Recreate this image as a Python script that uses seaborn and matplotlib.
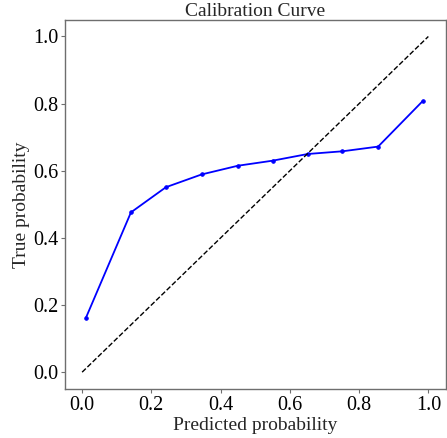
import matplotlib
matplotlib.use("Agg")
import matplotlib.pyplot as plt
import seaborn as sns
import pandas as pd

# Binned calibration results
mean_predicted = [0.011, 0.141, 0.242, 0.345, 0.450, 0.550, 0.652, 0.752, 0.855, 0.985]
fraction_positive = [0.162, 0.476, 0.551, 0.589, 0.615, 0.630, 0.650, 0.658, 0.672, 0.809]
reference_line = [0.0, 1.0]

sns.set_style("ticks", {"axes.edgecolor": "#6e6e6e", "xtick.color": "#6e6e6e",
                        "ytick.color": "#6e6e6e"})
plt.rcParams["font.family"] = ["Liberation Serif", "DejaVu Serif"]

fig, ax = plt.subplots(figsize=(4.47, 4.38), dpi=100)

df = pd.DataFrame({"pred": mean_predicted, "true": fraction_positive})
sns.lineplot(data=df, x="pred", y="true", ax=ax, color="blue", marker=".",
             markersize=5, linewidth=1.3, markeredgecolor="blue")
ax.plot(reference_line, reference_line, "k--", linewidth=1.0)

ax.set_xlim(-0.05, 1.05)
ax.set_ylim(-0.05, 1.05)
ax.set_xticks([0.0, 0.2, 0.4, 0.6, 0.8, 1.0])
ax.set_yticks([0.0, 0.2, 0.4, 0.6, 0.8, 1.0])
ax.tick_params(labelsize=14.5, labelcolor="black", length=3, width=0.8, pad=1.8)
for s in ax.spines.values():
    s.set_linewidth(1.0)
ax.set_xlabel("Predicted probability", fontsize=14, labelpad=2)
ax.set_ylabel("True probability", fontsize=14, labelpad=2)
ax.set_title("Calibration Curve", fontsize=14, pad=3)

fig.subplots_adjust(left=0.145, right=0.997, top=0.955, bottom=0.112)
fig.savefig("out.png", dpi=100)
